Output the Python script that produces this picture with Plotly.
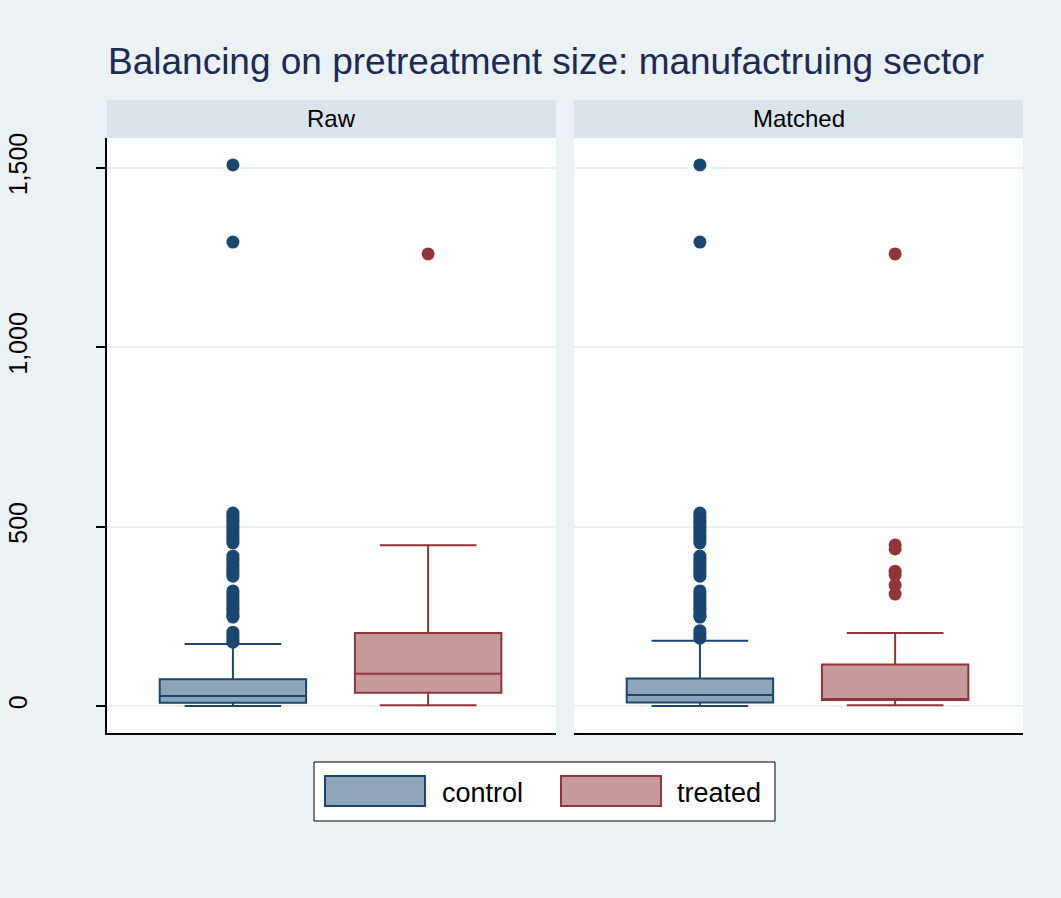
import plotly.graph_objects as go

# Summary statistics of pretreatment size (employees) by group
panels = ["Raw", "Matched"]
groups = ["control", "treated"]

raw_q1 = [9, 37]
raw_median = [28, 90]
raw_q3 = [75, 204]
raw_lower = [0, 2]
raw_upper = [173, 448]

matched_q1 = [10, 17]
matched_median = [31, 20]
matched_q3 = [77, 116]
matched_lower = [0, 2]
matched_upper = [182, 204]

# Outside values
raw_control_out = [1508, 1293,
                   538, 531, 524, 517, 510, 503, 496, 489, 482, 475, 468, 461, 455,
                   418, 411, 404, 397, 390, 383, 376, 369, 362,
                   321, 314, 307, 300, 293, 286, 279, 272, 265, 258, 251, 248,
                   206, 199, 192, 185, 178]
raw_treated_out = [1260]
matched_control_out = [1508, 1293,
                       538, 531, 524, 517, 510, 503, 496, 489, 482, 475, 468, 461, 455,
                       418, 411, 404, 397, 390, 383, 376, 369, 362,
                       321, 314, 307, 300, 293, 286, 279, 272, 265, 258, 251, 248,
                       210, 203, 196, 189]
matched_treated_out = [1260, 449, 438, 376, 365, 337, 312]

yticks = [0, 500, 1000, 1500]
ytick_labels = ["0", "500", "1,000", "1,500"]

fill = {"control": "#8ea4b9", "treated": "#c6999b"}
edge = {"control": "#1a476f", "treated": "#90353b"}
bg = "#eaf2f3"
strip = "#d9e5eb"
font_family = "Liberation Sans, Arial, sans-serif"

stats = {
    "Raw": (raw_q1, raw_median, raw_q3, raw_lower, raw_upper,
            [raw_control_out, raw_treated_out]),
    "Matched": (matched_q1, matched_median, matched_q3, matched_lower, matched_upper,
                [matched_control_out, matched_treated_out]),
}

fig = go.Figure()
for p, panel in enumerate(panels):
    q1, med, q3, lo, hi, outs = stats[panel]
    xa = "x" if p == 0 else "x2"
    ya = "y" if p == 0 else "y2"
    for g, grp in enumerate(groups):
        fig.add_trace(go.Box(
            x=[g], q1=[q1[g]], median=[med[g]], q3=[q3[g]],
            lowerfence=[lo[g]], upperfence=[hi[g]],
            width=0.75, whiskerwidth=0.66, boxpoints=False,
            fillcolor=fill[grp], line=dict(color=edge[grp], width=2),
            xaxis=xa, yaxis=ya, showlegend=False, hoverinfo="skip",
        ))
        fig.add_trace(go.Scatter(
            x=[g] * len(outs[g]), y=outs[g], mode="markers",
            marker=dict(color=edge[grp], size=13, line=dict(width=0)),
            xaxis=xa, yaxis=ya, showlegend=False, hoverinfo="skip",
        ))

W, H = 1061, 898
def px_x(v):
    return v / W
def px_y(v):
    return (H - v) / H

dom_left = [px_x(107), px_x(556)]
dom_right = [px_x(574), px_x(1023)]
dom_y = [px_y(733), px_y(138)]
xr = [-0.645, 1.655]
yr = [-75, 1583]

common_x = dict(range=xr, showticklabels=False, ticks="", showgrid=False,
                zeroline=False, showline=True, linecolor="black", linewidth=1.5,
                mirror=False, automargin=False)
fig.update_layout(
    width=W, height=H,
    margin=dict(l=0, r=0, t=0, b=0, autoexpand=False),
    paper_bgcolor=bg, plot_bgcolor="white",
    font=dict(family=font_family, color="black"),
    xaxis=dict(domain=dom_left, anchor="y", **common_x),
    xaxis2=dict(domain=dom_right, anchor="y2", **common_x),
    yaxis=dict(domain=dom_y, anchor="x", range=yr, tickvals=yticks,
               ticktext=ytick_labels, tickangle=-90, ticks="outside", ticklen=9,
               tickcolor="black", tickwidth=1.5, ticklabelstandoff=59,
               tickfont=dict(size=25, color="black"), automargin=False,
               showline=True, linecolor="black", linewidth=1.5,
               showgrid=True, gridcolor=bg, gridwidth=2, zeroline=False),
    yaxis2=dict(domain=dom_y, anchor="x2", range=yr, matches="y",
                tickvals=yticks, showticklabels=False, ticks="",
                showline=False, showgrid=True, gridcolor=bg, gridwidth=2,
                zeroline=False, automargin=False),
    showlegend=False,
)

shapes = []
annotations = []
# Panel header strips
for panel, dom in zip(panels, [dom_left, dom_right]):
    shapes.append(dict(type="rect", xref="paper", yref="paper",
                       x0=dom[0], x1=dom[1], y0=px_y(138), y1=px_y(100),
                       fillcolor=strip, line=dict(width=0), layer="below"))
    annotations.append(dict(text=panel, xref="paper", yref="paper",
                            x=(dom[0] + dom[1]) / 2, y=px_y(118),
                            xanchor="center", yanchor="middle", showarrow=False,
                            font=dict(size=24, color="black")))

# Title
annotations.append(dict(text="Balancing on pretreatment size: manufactruing sector",
                        xref="paper", yref="paper", x=px_x(546), y=px_y(61),
                        xanchor="center", yanchor="middle", showarrow=False,
                        font=dict(size=37, color="#1c2a55")))

# Legend
shapes.append(dict(type="rect", xref="paper", yref="paper",
                   x0=px_x(314), x1=px_x(775), y0=px_y(821), y1=px_y(762),
                   fillcolor="white", line=dict(color="black", width=1)))
for grp, sx, tx in [("control", 325, 440), ("treated", 561, 675)]:
    shapes.append(dict(type="rect", xref="paper", yref="paper",
                       x0=px_x(sx), x1=px_x(sx + 100), y0=px_y(806), y1=px_y(776),
                       fillcolor=fill[grp], line=dict(color=edge[grp], width=2)))
    annotations.append(dict(text=grp, xref="paper", yref="paper",
                            x=px_x(tx), y=px_y(793), xanchor="left",
                            yanchor="middle", showarrow=False,
                            font=dict(size=27, color="black")))

fig.update_layout(shapes=shapes, annotations=annotations)
fig.write_html("out.html")
